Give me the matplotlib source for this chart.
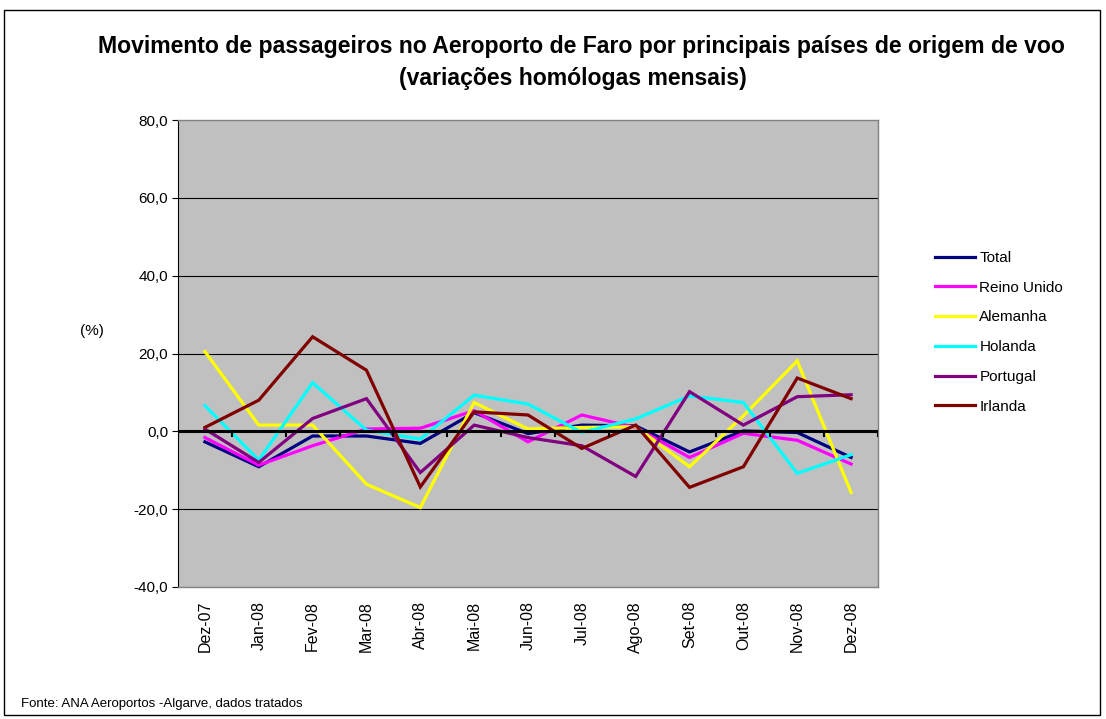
import matplotlib
matplotlib.use("Agg")
import matplotlib.pyplot as plt
from matplotlib.patches import Rectangle

plt.rcParams['font.family'] = ['Liberation Sans', 'DejaVu Sans']

months = ["Dez-07", "Jan-08", "Fev-08", "Mar-08", "Abr-08", "Mai-08", "Jun-08",
          "Jul-08", "Ago-08", "Set-08", "Out-08", "Nov-08", "Dez-08"]

total       = [-2.7, -9.1, -1.2, -1.2, -3.1, 4.8, -0.6, 1.6, 1.4, -5.3, 0.1, -0.3, -6.7]
reino_unido = [-1.6, -8.7, -3.7, 0.6, 0.8, 5.3, -2.7, 4.2, 1.0, -6.7, -0.5, -2.3, -8.4]
alemanha    = [20.5, 1.6, 1.6, -13.6, -19.6, 7.4, 0.6, 1.0, 1.2, -9.1, 4.0, 18.1, -15.7]
holanda     = [6.6, -7.4, 12.5, 0.3, -2.0, 9.3, 7.0, -0.3, 3.2, 9.1, 7.4, -10.8, -6.0]
portugal    = [0.6, -8.0, 3.3, 8.4, -10.6, 1.6, -1.6, -3.7, -11.6, 10.2, 1.6, 8.9, 9.4]
irlanda     = [1.0, 8.0, 24.3, 15.7, -14.3, 5.0, 4.2, -4.4, 1.6, -14.4, -9.1, 13.7, 8.4]

series = [("Total", total, "#000080"),
          ("Reino Unido", reino_unido, "#FF00FF"),
          ("Alemanha", alemanha, "#FFFF00"),
          ("Holanda", holanda, "#00FFFF"),
          ("Portugal", portugal, "#800080"),
          ("Irlanda", irlanda, "#800000")]

yticks = [-40, -20, 0, 20, 40, 60, 80]

fig = plt.figure(figsize=(11.06, 7.19), dpi=100)
fig.patch.set_facecolor("white")
# outer border
fig.add_artist(Rectangle((4/1106, 4/719), 1096/1106, 705/719, transform=fig.transFigure,
                         fill=False, edgecolor="black", linewidth=1.0))

ax = fig.add_axes([178/1106, 1-587/719, 700/1106, 467/719])
ax.set_facecolor("#C0C0C0")
x = list(range(len(months)))
for name, vals, col in series:
    ax.plot(x, vals, color=col, linewidth=2.3, label=name, solid_joinstyle='miter')

ax.set_xlim(-0.5, len(months) - 0.5)
ax.set_ylim(-40, 80)
ax.set_yticks(yticks)
ax.set_yticklabels([f"{v:.1f}".replace(".", ",") for v in yticks], fontsize=11)
for v in yticks:
    if v not in (0, 80, -40):
        ax.axhline(v, color="#000000", linewidth=0.8, zorder=0.5)
ax.axhline(0, color="black", linewidth=2.2, zorder=3)
# minor tick marks on zero line between categories
for b in [i - 0.5 for i in range(len(months) + 1)]:
    ax.plot([b, b], [0, -1.3], color="black", linewidth=1.5, zorder=3)

ax.set_xticks(x)
ax.set_xticklabels(months, rotation=90, fontsize=11.5)
ax.tick_params(axis='x', length=0, pad=10)
ax.tick_params(axis='y', length=4, direction='out', width=0.8, pad=3)
for s in ["top", "right", "bottom"]:
    ax.spines[s].set_color("#808080")
    ax.spines[s].set_linewidth(1.0)
ax.spines["left"].set_color("black")
ax.spines["left"].set_linewidth(0.8)

fig.text(581/1106, 1-47/719, "Movimento de passageiros no Aeroporto de Faro por principais países de origem de voo",
         ha="center", va="center", fontsize=16.6, fontweight="bold")
fig.text(573/1106, 1-79/719, "(variações homólogas mensais)",
         ha="center", va="center", fontsize=16.6, fontweight="bold")
fig.text(92/1106, 1-331/719, "(%)", ha="center", va="center", fontsize=11)
fig.text(21/1106, 1-704/719, "Fonte: ANA Aeroportos -Algarve, dados tratados",
         ha="left", va="center", fontsize=9.5)

leg = ax.legend(loc="upper left", bbox_to_anchor=(935/1106, 1-251/719),
                bbox_transform=fig.transFigure, frameon=False, fontsize=11,
                handlelength=2.6, handletextpad=0.3, labelspacing=1.03,
                borderaxespad=0, borderpad=0)

fig.savefig("out.png", dpi=100)
